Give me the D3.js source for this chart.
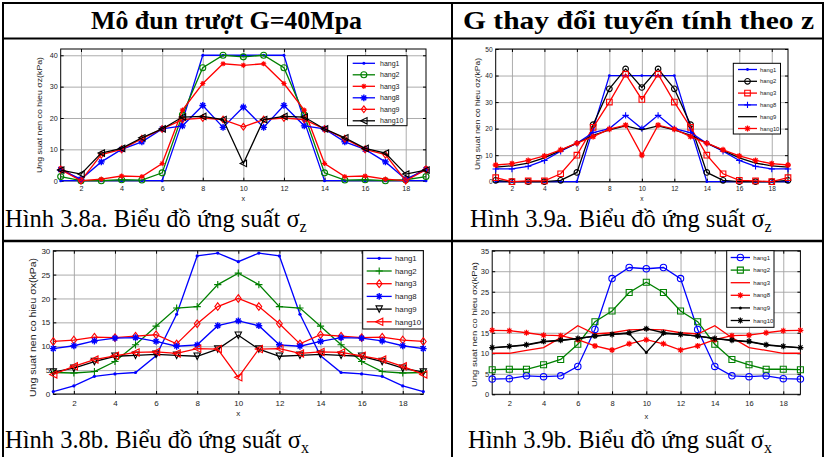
<!DOCTYPE html>
<html>
<head>
<meta charset="utf-8">
<script src="https://cdn.jsdelivr.net/npm/d3@7"></script>
<style>
body { margin: 0; background: #fff; }
svg { display: block; }
</style>
</head>
<body>
<svg id="fig" width="825" height="457"></svg>
<script>
// x positions (nodes 1..19)
const xs = d3.range(1, 20);
const xTicks = [2, 4, 6, 8, 10, 12, 14, 16, 18];
const seriesNames = ['hang1', 'hang2', 'hang3', 'hang8', 'hang9', 'hang10'];

// Hinh 3.8a - sigma z, G = 40 MPa
const sz1_hang1 = [0, 0, 0, 0, 0, 0, 19, 40, 40, 40, 40, 40, 19, 0, 0, 0, 0, 0, 0];
const sz1_hang2 = [1.3, 0, 0, 0.3, 0.2, 2.5, 21, 36, 40, 39.5, 40, 36, 21, 2.5, 0.2, 0.3, 0, 0.3, 1.3];
const sz1_hang3 = [4, 0, 0.5, 1.5, 1.3, 5.5, 22.5, 31, 37.3, 36.8, 37.3, 31, 22.5, 5.5, 1.3, 1.5, 0.5, 0, 4];
const sz1_hang8 = [3.5, 0.5, 6, 10, 12.4, 16.5, 17.5, 24, 17, 23.5, 17, 24, 17.5, 16.5, 12.4, 10, 6, 0.5, 3.5];
const sz1_hang9 = [3.5, 0, 8.3, 10, 13.4, 16.5, 19.5, 20, 19.5, 17.2, 19.5, 20, 19.5, 16.5, 13.4, 10, 8.3, 0, 3.5];
const sz1_hang10 = [3.4, 2.1, 8.8, 10.3, 13.7, 16.5, 20.3, 20.5, 19.5, 5.5, 19.5, 20.5, 20.3, 16.5, 13.7, 10.3, 8.8, 2.1, 3.4];

// Hinh 3.9a - sigma z, G linear in z
const sz2_hang1 = [0, 0, 0, 0, 0, 0, 20, 40, 40, 40, 40, 40, 20, 0, 0, 0, 0, 0, 0];
const sz2_hang2 = [0.5, 0, 0, 0, 0.5, 3.5, 21.5, 35, 42.5, 35.5, 42.5, 35, 21.5, 3.5, 0.5, 0, 0, 0, 0.5];
const sz2_hang3 = [1.5, 0, 0.3, 0.3, 3, 10, 20.5, 30, 40.5, 31, 40.5, 30, 20.5, 10, 3, 0.5, 0.3, 0, 1.5];
const sz2_hang8 = [4.8, 4.8, 5.8, 8, 11.5, 14.5, 18.5, 20, 25, 20, 25, 20, 18.5, 14.5, 11.5, 8, 5.8, 4.8, 4.8];
const sz2_hang9 = [5.5, 6, 7, 9, 11.8, 14.5, 17.5, 19.5, 21, 19.5, 21, 19.5, 17.5, 14.5, 11.8, 9, 7, 6, 5.5];
const sz2_hang10 = [6.3, 6.8, 8, 9.7, 12, 14.5, 17, 19.8, 21.3, 10, 21.3, 19.8, 17, 14.5, 12, 9.7, 8, 6.8, 6.3];

// Hinh 3.8b - sigma x, G = 40 MPa
const sx1_hang1 = [0.5, 1.7, 3.7, 4.2, 4.5, 8, 16.7, 28.9, 29.5, 27.7, 29.5, 28.9, 16.7, 8, 4.5, 4.2, 3.7, 1.7, 0.5];
const sx1_hang2 = [4.5, 4.4, 4.7, 6.8, 10.3, 14.2, 18, 18.3, 22.9, 25.3, 22.9, 18.3, 18, 14.2, 10.3, 6.8, 4.7, 4.4, 4.5];
const sx1_hang3 = [11, 11.3, 11.9, 11.8, 12.1, 12.4, 10.5, 14.7, 18.3, 20, 18.3, 14.7, 10.5, 12.4, 12.1, 11.8, 11.9, 11.3, 11];
const sx1_hang8 = [9.5, 10.1, 11.1, 11.7, 11.8, 11, 10, 10.3, 14.3, 15.3, 14.3, 10.3, 10, 11, 11.8, 11.7, 11.1, 10.1, 9.5];
const sx1_hang9 = [4.6, 5.4, 6.8, 7.9, 8.1, 8.3, 8.1, 7.9, 9.4, 12.3, 9.4, 7.9, 8.1, 8.3, 8.1, 7.9, 6.8, 5.4, 4.6];
const sx1_hang10 = [4.1, 5.8, 7.2, 8, 8.7, 8.8, 8.5, 9.5, 9.4, 3.5, 9.4, 9.5, 8.5, 8.8, 8.7, 8, 7.2, 5.8, 4.1];

// Hinh 3.9b - sigma x, G linear in z
const sx2_hang1 = [3.7, 3.8, 4.5, 4.3, 4.5, 6.8, 15.8, 28.2, 30.9, 30.6, 30.9, 28.2, 15.8, 6.8, 4.5, 4.3, 4.5, 3.8, 3.7];
const sx2_hang2 = [6, 6.1, 6.1, 7.2, 8.5, 12.2, 17.7, 20.3, 24.8, 27.3, 24.8, 20.3, 17.7, 12.2, 8.5, 7.2, 6.1, 6.1, 6];
const sx2_hang3 = [10, 10, 10.7, 11.4, 13.8, 16.7, 14.7, 15, 15.7, 15.8, 15.7, 15, 14.7, 16.7, 13.8, 11.4, 10.7, 10, 10];
const sx2_hang8 = [15.6, 15.5, 15, 14.4, 14.3, 13.3, 11.8, 10.8, 12.3, 13.3, 12.3, 10.8, 11.8, 13.3, 14.3, 14.4, 15, 15.5, 15.6];
const sx2_hang9 = [11.3, 11.6, 12, 12.8, 13.1, 13.6, 14.2, 14.6, 14.8, 10.2, 14.8, 14.6, 14.2, 13.6, 13.1, 12.8, 12, 11.6, 11.3];
const sx2_hang10 = [11.4, 11.7, 12.1, 12.9, 13.2, 13.6, 14.2, 14.6, 15, 16, 15, 14.6, 14.2, 13.6, 13.2, 12.9, 12.1, 11.7, 11.4];

const BLUE = '#0000ff', GREEN = '#008000', RED = '#ff0000', BLACK = '#000000';

const svg = d3.select('#fig');
svg.append('rect').attr('width', 825).attr('height', 457).attr('fill', '#fff');

// marker shapes, centred on 0,0
function markerPath(type, s) {
    if (type === '*') {
        let d = 0.7 * s;
        return `M${-s},0H${s}M0,${-s}V${s}M${-d},${-d}L${d},${d}M${-d},${d}L${d},${-d}`;
    }
    if (type === '+') return `M${-s},0H${s}M0,${-s}V${s}`;
    if (type === 'd') return `M0,${-s}L${s * 0.75},0L0,${s}L${-s * 0.75},0Z`;
    if (type === '<') return `M${-s},0L${s},${-s}L${s},${s}Z`;
    if (type === 'v') return `M${-s},${-s}L${s},${-s}L0,${s}Z`;
    if (type === 's') return `M${-s},${-s}H${s}V${s}H${-s}Z`;
    return null;
}

function drawMarker(sel, m, color) {
    if (!m.type) return;
    if (m.type === '.') {
        sel.append('circle').attr('r', m.size).attr('fill', color);
    } else if (m.type === 'o') {
        sel.append('circle').attr('r', m.size).attr('fill', 'none')
            .attr('stroke', color).attr('stroke-width', 1.1);
    } else {
        sel.append('path').attr('d', markerPath(m.type, m.size)).attr('fill', 'none')
            .attr('stroke', color).attr('stroke-width', m.sw || 1.1);
    }
}

function drawChart(cfg) {
    let g = svg.append('g');
    let x = d3.scaleLinear().domain([1, 19]).range([cfg.left, cfg.right]);
    let y = d3.scaleLinear().domain([0, cfg.yMax]).range([cfg.bottom, cfg.top]);
    let h = cfg.bottom - cfg.top, w = cfg.right - cfg.left;

    // grid
    let grid = g.append('g').attr('class', 'grid');
    grid.append('g').attr('transform', 'translate(0,' + cfg.bottom + ')')
        .call(d3.axisBottom(x).tickValues(xTicks).tickSize(-h).tickFormat(''));
    grid.append('g').attr('transform', 'translate(' + cfg.left + ',0)')
        .call(d3.axisLeft(y).tickValues(cfg.yTicks).tickSize(-w).tickFormat(''));
    grid.selectAll('.domain').remove();
    grid.selectAll('line').attr('stroke', '#a3a3a3').attr('stroke-width', 0.9);

    // inward ticks on all four sides
    let fontCss = 'font-family:"Liberation Sans",Arial,sans-serif;font-size:' + cfg.tickFont + 'px';
    let bx = g.append('g').attr('transform', 'translate(0,' + cfg.bottom + ')')
        .call(d3.axisBottom(x).tickValues(xTicks).tickSize(-3).tickPadding(cfg.xPad));
    let lx = g.append('g').attr('transform', 'translate(' + cfg.left + ',0)')
        .call(d3.axisLeft(y).tickValues(cfg.yTicks).tickSize(-3).tickPadding(3));
    let tx = g.append('g').attr('transform', 'translate(0,' + cfg.top + ')')
        .call(d3.axisTop(x).tickValues(xTicks).tickSize(-3).tickFormat(''));
    let rx = g.append('g').attr('transform', 'translate(' + cfg.right + ',0)')
        .call(d3.axisRight(y).tickValues(cfg.yTicks).tickSize(-3).tickFormat(''));
    [bx, lx, tx, rx].forEach(function (a) {
        a.select('.domain').remove();
        a.selectAll('line').attr('stroke', '#000');
        a.selectAll('text').attr('style', fontCss).attr('fill', '#222');
    });

    g.append('rect').attr('x', cfg.left).attr('y', cfg.top).attr('width', w).attr('height', h)
        .attr('fill', 'none').attr('stroke', '#000').attr('stroke-width', 1);

    // series
    let line = d3.line().x(function (d, i) { return x(xs[i]); }).y(function (d) { return y(d); });
    cfg.series.forEach(function (s) {
        g.append('path').datum(s.values).attr('d', line).attr('fill', 'none')
            .attr('stroke', s.color).attr('stroke-width', 1.3);
        s.values.forEach(function (v, i) {
            let mg = g.append('g').attr('transform', 'translate(' + x(xs[i]) + ',' + y(v) + ')');
            drawMarker(mg, s.marker, s.color);
        });
    });

    // axis titles
    g.append('text').attr('x', x(10)).attr('y', cfg.xLabelY).attr('text-anchor', 'middle')
        .attr('style', fontCss).attr('fill', '#222').text('x');
    g.append('text')
        .attr('transform', 'translate(' + cfg.yLabelX + ',' + cfg.yLabelY + ') rotate(-90)')
        .attr('text-anchor', 'middle')
        .attr('style', 'font-family:"Liberation Sans",Arial,sans-serif;font-size:' + cfg.yLabelFont + 'px')
        .attr('textLength', cfg.yLabelLen).attr('lengthAdjust', 'spacingAndGlyphs')
        .attr('fill', '#222')
        .text(cfg.yLabel);

    // legend
    let L = cfg.legend;
    let lg = g.append('g');
    lg.append('rect').attr('x', L.x0).attr('y', L.y0).attr('width', L.x1 - L.x0).attr('height', L.y1 - L.y0)
        .attr('fill', '#fff').attr('stroke', '#000').attr('stroke-width', 1);
    cfg.series.forEach(function (s, i) {
        let yy = L.first + i * L.step;
        lg.append('line').attr('x1', L.lx0).attr('x2', L.lx1).attr('y1', yy).attr('y2', yy)
            .attr('stroke', s.color).attr('stroke-width', 1.3);
        let mg = lg.append('g').attr('transform', 'translate(' + (L.lx0 + L.lx1) / 2 + ',' + yy + ')');
        drawMarker(mg, s.marker, s.color);
        lg.append('text').attr('x', L.tx).attr('y', yy).attr('dy', '0.35em')
            .attr('style', 'font-family:"Liberation Sans",Arial,sans-serif;font-size:' + L.font + 'px')
            .attr('fill', '#222')
            .text(seriesNames[i]);
    });
}

function mk(type, size, sw) { return {type: type, size: size, sw: sw}; }

drawChart({
    left: 60.7, right: 426, top: 49, bottom: 180.7, yMax: 42, yTicks: [0, 10, 20, 30, 40],
    tickFont: 7.2, xPad: 5, xLabelY: 201, yLabelX: 42, yLabelY: 115, yLabelLen: 116, yLabelFont: 7.5,
    yLabel: 'Ung suat nen co hieu σz(kPa)',
    legend: {x0: 347.5, x1: 407, y0: 55.7, y1: 125.7, first: 63.3, step: 11.5, lx0: 352.7, lx1: 375, tx: 380, font: 7},
    series: [
        {values: sz1_hang1, color: BLUE, marker: mk('.', 1.5)},
        {values: sz1_hang2, color: GREEN, marker: mk('o', 3)},
        {values: sz1_hang3, color: RED, marker: mk('*', 2.6)},
        {values: sz1_hang8, color: BLUE, marker: mk('*', 3.4, 1.4)},
        {values: sz1_hang9, color: RED, marker: mk('d', 3.4)},
        {values: sz1_hang10, color: BLACK, marker: mk('<', 3.2)}
    ]
});

drawChart({
    left: 495.7, right: 788, top: 49, bottom: 181.7, yMax: 50, yTicks: [0, 10, 20, 30, 40, 50],
    tickFont: 6.6, xPad: 5, xLabelY: 200.5, yLabelX: 480, yLabelY: 114, yLabelLen: 112, yLabelFont: 7,
    yLabel: 'Ung suat nen co hieu σz(kPa)',
    legend: {x0: 733.3, x1: 780.5, y0: 63.3, y1: 134, first: 69.5, step: 11.8, lx0: 738, lx1: 757, tx: 760, font: 5.8},
    series: [
        {values: sz2_hang1, color: BLUE, marker: mk('.', 1.4)},
        {values: sz2_hang2, color: BLACK, marker: mk('o', 2.8)},
        {values: sz2_hang3, color: RED, marker: mk('s', 2.8)},
        {values: sz2_hang8, color: BLUE, marker: mk('+', 3.2)},
        {values: sz2_hang9, color: BLACK, marker: mk(null, 0)},
        {values: sz2_hang10, color: RED, marker: mk('*', 3, 1.3)}
    ]
});

drawChart({
    left: 53.3, right: 423.3, top: 250.7, bottom: 394, yMax: 30, yTicks: [0, 5, 10, 15, 20, 25, 30],
    tickFont: 8, xPad: 6, xLabelY: 416, yLabelX: 36, yLabelY: 327.5, yLabelLen: 139, yLabelFont: 8.5,
    yLabel: 'Ung suat nen co hieu  σx(kPa)',
    legend: {x0: 362.7, x1: 423.3, y0: 250.7, y1: 329, first: 258.3, step: 12.7, lx0: 366.7, lx1: 391.7, tx: 395, font: 7.8},
    series: [
        {values: sx1_hang1, color: BLUE, marker: mk('.', 1.6)},
        {values: sx1_hang2, color: GREEN, marker: mk('+', 3.6)},
        {values: sx1_hang3, color: RED, marker: mk('d', 3.8)},
        {values: sx1_hang8, color: BLUE, marker: mk('*', 3.4, 1.4)},
        {values: sx1_hang9, color: BLACK, marker: mk('v', 3.2)},
        {values: sx1_hang10, color: RED, marker: mk('<', 3.6)}
    ]
});

drawChart({
    left: 492.2, right: 800.4, top: 250.7, bottom: 394.3, yMax: 35, yTicks: [0, 5, 10, 15, 20, 25, 30, 35],
    tickFont: 7.5, xPad: 6, xLabelY: 419, yLabelX: 477, yLabelY: 324.5, yLabelLen: 125, yLabelFont: 8,
    yLabel: 'Ung suat nen co hieu  σx(kPa)',
    legend: {x0: 726.7, x1: 774, y0: 250.7, y1: 327.3, first: 257.5, step: 12.6, lx0: 730.7, lx1: 750, tx: 753.3, font: 6},
    series: [
        {values: sx2_hang1, color: BLUE, marker: mk('o', 3.2)},
        {values: sx2_hang2, color: GREEN, marker: mk('s', 3)},
        {values: sx2_hang3, color: RED, marker: mk(null, 0)},
        {values: sx2_hang8, color: RED, marker: mk('*', 3, 1.2)},
        {values: sx2_hang9, color: BLACK, marker: mk('.', 1.5)},
        {values: sx2_hang10, color: BLACK, marker: mk('*', 3, 1.2)}
    ]
});

// table frame
let frame = svg.append('g').attr('stroke', '#000').attr('fill', 'none');
frame.append('line').attr('x1', 2).attr('x2', 824).attr('y1', 3).attr('y2', 3).attr('stroke-width', 2);
frame.append('line').attr('x1', 2).attr('x2', 824).attr('y1', 38.5).attr('y2', 38.5).attr('stroke-width', 2);
frame.append('line').attr('x1', 2).attr('x2', 824).attr('y1', 241).attr('y2', 241).attr('stroke-width', 2.5);
frame.append('line').attr('x1', 3).attr('x2', 3).attr('y1', 2).attr('y2', 457).attr('stroke-width', 2);
frame.append('line').attr('x1', 452).attr('x2', 452).attr('y1', 2).attr('y2', 457).attr('stroke-width', 2);
frame.append('line').attr('x1', 823).attr('x2', 823).attr('y1', 2).attr('y2', 457).attr('stroke-width', 2);

// headers
const headers = [
    {text: 'Mô đun trượt G=40Mpa', x: 91, len: 271},
    {text: 'G thay đổi tuyến tính theo z', x: 463, len: 351}
];
svg.selectAll('.hdr').data(headers).join('text').attr('class', 'hdr')
    .attr('x', function (d) { return d.x; }).attr('y', 29)
    .attr('textLength', function (d) { return d.len; }).attr('lengthAdjust', 'spacingAndGlyphs')
    .attr('style', 'font-family:"Liberation Serif","Times New Roman",serif;font-size:25px;font-weight:bold')
    .text(function (d) { return d.text; });

// captions
const captions = [
    {text: 'Hình 3.8a. Biểu đồ ứng suất σ', sub: 'z', x: 5, y: 227},
    {text: 'Hình 3.9a. Biểu đồ ứng suất σ', sub: 'z', x: 470, y: 227},
    {text: 'Hình 3.8b. Biểu đồ ứng suất σ', sub: 'x', x: 5, y: 448},
    {text: 'Hình 3.9b. Biểu đồ ứng suất σ', sub: 'x', x: 468, y: 448}
];
captions.forEach(function (c) {
    let t = svg.append('text').attr('x', c.x).attr('y', c.y)
        .attr('style', 'font-family:"Liberation Serif","Times New Roman",serif;font-size:24.5px');
    t.append('tspan').text(c.text);
    t.append('tspan').attr('dy', 5).attr('font-size', 16).text(c.sub);
});
</script>
</body>
</html>
